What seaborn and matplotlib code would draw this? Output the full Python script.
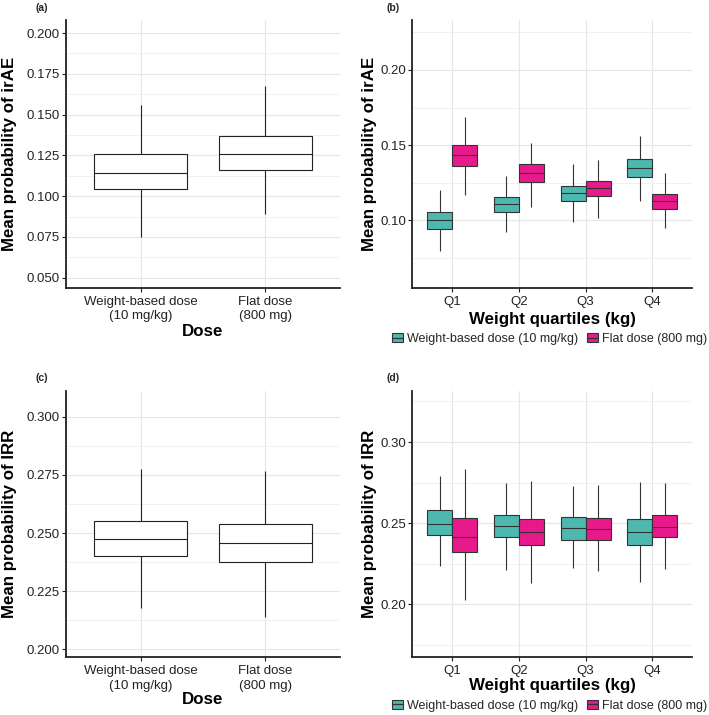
import numpy as np
import pandas as pd
import matplotlib
matplotlib.use("Agg")
import matplotlib.pyplot as plt
import seaborn as sns
from matplotlib.patches import Patch
from matplotlib.lines import Line2D
from matplotlib.legend_handler import HandlerTuple
from matplotlib.ticker import FormatStrFormatter

# Resumen de cinco numeros por grupo: [min bigote, Q1, mediana, Q3, max bigote]
dosis = ["Weight-based dose\n(10 mg/kg)", "Flat dose\n(800 mg)"]
cuartiles = ["Q1", "Q2", "Q3", "Q4"]
leyenda = ["Weight-based dose (10 mg/kg)", "Flat dose (800 mg)"]

irae_peso = [0.0747, 0.1047, 0.1142, 0.1261, 0.1561]
irae_fija = [0.0893, 0.1163, 0.1261, 0.1371, 0.1678]

irae_q_peso = [[0.0797, 0.0945, 0.1000, 0.1054, 0.1202],
               [0.0923, 0.1054, 0.1107, 0.1156, 0.1295],
               [0.0991, 0.1131, 0.1180, 0.1231, 0.1377],
               [0.1129, 0.1290, 0.1350, 0.1410, 0.1561]]
irae_q_fija = [[0.1167, 0.1362, 0.1433, 0.1500, 0.1690],
               [0.1091, 0.1257, 0.1317, 0.1373, 0.1517],
               [0.1018, 0.1162, 0.1213, 0.1262, 0.1400],
               [0.0951, 0.1078, 0.1129, 0.1176, 0.1317]]

irr_peso = [0.2179, 0.2401, 0.2473, 0.2550, 0.2774]
irr_fija = [0.2140, 0.2375, 0.2456, 0.2537, 0.2767]

irr_q_peso = [[0.2238, 0.2429, 0.2497, 0.2579, 0.2793],
              [0.2212, 0.2415, 0.2481, 0.2552, 0.2746],
              [0.2226, 0.2397, 0.2469, 0.2538, 0.2731],
              [0.2136, 0.2366, 0.2444, 0.2524, 0.2756]]
irr_q_fija = [[0.2025, 0.2325, 0.2417, 0.2530, 0.2836],
              [0.2134, 0.2366, 0.2448, 0.2526, 0.2762],
              [0.2208, 0.2395, 0.2462, 0.2534, 0.2733],
              [0.2216, 0.2415, 0.2478, 0.2550, 0.2746]]

colores = ["#4DB8AE", "#E8198B"]
borde = "#333333"


def tabla_dosis(peso, fija):
    filas = [(dosis[0], v) for v in peso] + [(dosis[1], v) for v in fija]
    return pd.DataFrame(filas, columns=["dosis", "valor"])


def tabla_cuartiles(peso, fija):
    filas = []
    for q, vp, vf in zip(cuartiles, peso, fija):
        filas += [(q, leyenda[0], v) for v in vp]
        filas += [(q, leyenda[1], v) for v in vf]
    return pd.DataFrame(filas, columns=["cuartil", "dosis", "valor"])


sns.set_theme(style="white")
plt.rcParams["font.family"] = ["Liberation Sans", "DejaVu Sans"]

fig = plt.figure(figsize=(7.09, 7.15), dpi=100)
ax_a = fig.add_axes([0.0931, 0.5972, 0.3865, 0.3748])
ax_b = fig.add_axes([0.5815, 0.5972, 0.3950, 0.3748])
ax_c = fig.add_axes([0.0931, 0.0807, 0.3865, 0.3724])
ax_d = fig.add_axes([0.5815, 0.0807, 0.3950, 0.3724])

estilo_lineas = dict(linewidth=0.8, whis=(0, 100), showfliers=False, showcaps=False)

# Paneles de dosis (a, c)
for ax, peso, fija in [(ax_a, irae_peso, irae_fija), (ax_c, irr_peso, irr_fija)]:
    sns.boxplot(data=tabla_dosis(peso, fija), x="dosis", y="valor", ax=ax,
                color="white", linecolor="#222222", width=0.75, **estilo_lineas)
    ax.set_xlim(-0.6, 1.6)

# Paneles por cuartil de peso (b, d)
for ax, peso, fija in [(ax_b, irae_q_peso, irae_q_fija), (ax_d, irr_q_peso, irr_q_fija)]:
    sns.boxplot(data=tabla_cuartiles(peso, fija), x="cuartil", y="valor", hue="dosis",
                hue_order=leyenda, palette=colores, saturation=1, ax=ax, linecolor=borde,
                width=0.75, gap=0, legend=False, **estilo_lineas)
    ax.set_xlim(-0.6, 3.6)

ax_a.set_ylim(0.0437, 0.208)
ax_a.set_yticks(np.arange(0.05, 0.2001, 0.025))
ax_a.set_yticks(np.arange(0.0625, 0.2, 0.025), minor=True)
ax_a.yaxis.set_major_formatter(FormatStrFormatter("%.3f"))

ax_c.set_ylim(0.1966, 0.311)
ax_c.set_yticks(np.arange(0.2, 0.3001, 0.025))
ax_c.set_yticks(np.arange(0.2125, 0.3, 0.025), minor=True)
ax_c.yaxis.set_major_formatter(FormatStrFormatter("%.3f"))

ax_b.set_ylim(0.055, 0.2332)
ax_b.set_yticks([0.10, 0.15, 0.20])
ax_b.set_yticks([0.075, 0.125, 0.175, 0.225], minor=True)
ax_b.yaxis.set_major_formatter(FormatStrFormatter("%.2f"))

ax_d.set_ylim(0.1674, 0.3314)
ax_d.set_yticks([0.20, 0.25, 0.30])
ax_d.set_yticks([0.175, 0.225, 0.275, 0.325], minor=True)
ax_d.yaxis.set_major_formatter(FormatStrFormatter("%.2f"))

titulos = [(ax_a, "Dose", "Mean probability of irAE", -0.163, -0.206),
           (ax_b, "Weight quartiles (kg)", "Mean probability of irAE", -0.117, -0.151),
           (ax_c, "Dose", "Mean probability of IRR", -0.158, -0.206),
           (ax_d, "Weight quartiles (kg)", "Mean probability of IRR", -0.107, -0.151)]

for ax, xl, yl, yx, xy in titulos:
    ax.set_axisbelow(True)
    ax.grid(True, which="major", color="#E6E6E6", linewidth=0.8)
    ax.grid(True, which="minor", axis="y", color="#EFEFEF", linewidth=0.6)
    for lado in ["top", "right"]:
        ax.spines[lado].set_visible(False)
    for lado in ["left", "bottom"]:
        ax.spines[lado].set_color("#222222")
        ax.spines[lado].set_linewidth(1.3)
    ax.tick_params(which="major", length=3, width=0.8, color="#222222", pad=1.5,
                   labelsize=9.5, labelcolor="#222222", left=True, bottom=True)
    ax.tick_params(axis="x", pad=2.5)
    ax.tick_params(which="minor", length=0)
    for t in ax.get_xticklabels():
        t.set_linespacing(1.3)
    ax.set_xlabel(xl, fontsize=12.2, fontweight="bold", color="black")
    ax.set_ylabel(yl, fontsize=12.2, fontweight="bold", color="black")
    ax.xaxis.set_label_coords(0.5, yx)
    ax.xaxis.label.set_va("center")
    ax.yaxis.set_label_coords(xy, 0.5)
    ax.yaxis.label.set_va("center")

# Leyendas bajo los paneles b y d
manejadores = [(Patch(facecolor=c, edgecolor=borde, linewidth=0.8),
                Line2D([], [], color=borde, linewidth=0.9)) for c in colores]
for ax, y in [(ax_b, -0.191), (ax_d, -0.182)]:
    ax.legend(manejadores, leyenda, handler_map={tuple: HandlerTuple(ndivide=1)},
              loc="center", bbox_to_anchor=(0.489, y), ncol=2, frameon=False,
              fontsize=9, handlelength=0.9, handleheight=0.75, handletextpad=0.3,
              columnspacing=0.7, borderaxespad=0)

# Etiquetas de panel
for x, y, t in [(35, 8, "(a)"), (386.7, 8, "(b)"), (35, 378.3, "(c)"), (386.7, 378, "(d)")]:
    fig.text(x / 709, 1 - y / 715, t, fontsize=7.5, fontweight="bold", va="center", ha="left")

plt.savefig("out.png", dpi=100)
plt.close()
